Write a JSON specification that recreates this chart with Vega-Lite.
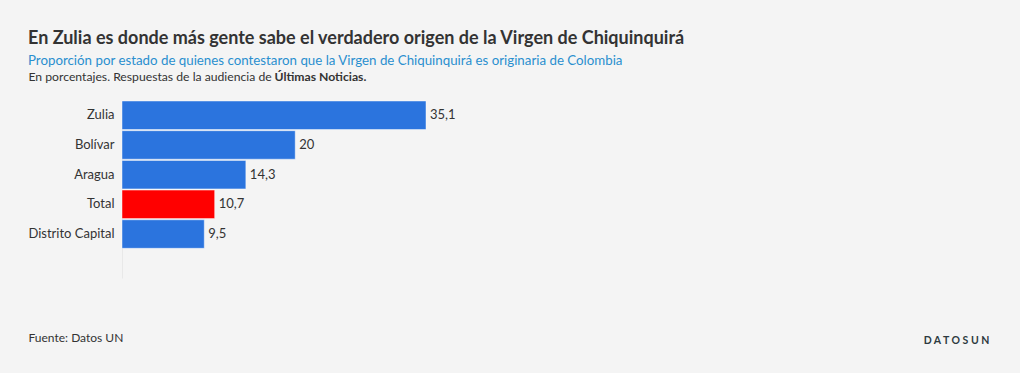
{
  "$schema": "https://vega.github.io/schema/vega-lite/v6.json",
  "width": 304,
  "height": 177,
  "autosize": "none",
  "padding": {"left": 122, "top": 101, "right": 594, "bottom": 95},
  "background": "#f4f4f4",
  "config": {
    "view": {"stroke": null},
    "font": "Lato",
    "locale": {"number": {"decimal": ",", "thousands": ".", "grouping": [3], "currency": ["", ""]}}
  },
  "title": {
    "text": "En Zulia es donde más gente sabe el verdadero origen de la Virgen de Chiquinquirá",
    "subtitle": "Proporción por estado de quienes contestaron que la Virgen de Chiquinquirá es originaria de Colombia",
    "anchor": "start",
    "frame": "group",
    "dx": -94,
    "dy": 1,
    "fontSize": 18,
    "fontWeight": "bold",
    "color": "#333333",
    "subtitleFontSize": 13.3,
    "subtitleColor": "#2a8fcf",
    "subtitlePadding": 6,
    "offset": 4
  },
  "data": {
    "values": [
      {"estado": "Zulia", "valor": 35.1, "tipo": "estado"},
      {"estado": "Bolívar", "valor": 20, "tipo": "estado"},
      {"estado": "Aragua", "valor": 14.3, "tipo": "estado"},
      {"estado": "Total", "valor": 10.7, "tipo": "total"},
      {"estado": "Distrito Capital", "valor": 9.5, "tipo": "estado"}
    ]
  },
  "layer": [
    {
      "mark": {"type": "bar", "stroke": "#ffffff", "strokeOpacity": 0.45, "strokeWidth": 1},
      "encoding": {
        "y": {
          "field": "estado",
          "type": "nominal",
          "sort": null,
          "scale": {"domain": ["Zulia", "Bolívar", "Aragua", "Total", "Distrito Capital", " "], "paddingInner": 0.04, "paddingOuter": 0},
          "axis": {
            "title": "Últimas Noticias.",
            "titleAngle": 0,
            "titleX": 152,
            "titleY": -25,
            "titleAlign": "left",
            "titleBaseline": "middle",
            "titleFontWeight": "bold",
            "titleFontSize": 12.2,
            "titleColor": "#333333",
            "labelFontSize": 13,
            "labelColor": "#333333",
            "labelPadding": 8,
            "ticks": false,
            "domainColor": "#e8e8e8",
            "grid": false
          }
        },
        "x": {
          "field": "valor",
          "type": "quantitative",
          "scale": {"domain": [0, 35.1], "nice": false},
          "axis": {
            "orient": "top",
            "title": "En porcentajes. Respuestas de la audiencia de",
            "titleX": -94,
            "titleY": -25,
            "titleAlign": "left",
            "titleBaseline": "middle",
            "titleFontWeight": "normal",
            "titleFontSize": 12.2,
            "titleColor": "#333333",
            "labels": false,
            "ticks": false,
            "domain": false,
            "grid": false
          }
        },
        "color": {
          "field": "tipo",
          "type": "nominal",
          "scale": {"domain": ["estado", "total"], "range": ["#2b74de", "#ff0000"]},
          "legend": null
        }
      }
    },
    {
      "mark": {"type": "text", "align": "left", "baseline": "middle", "dx": 4, "fontSize": 13, "color": "#333333"},
      "encoding": {
        "y": {
          "field": "estado",
          "type": "nominal",
          "sort": null,
          "axis": {
            "orient": "right",
            "title": "D A T O S U N",
            "titleAngle": 0,
            "titleX": 530,
            "titleY": 239,
            "titleAlign": "center",
            "titleBaseline": "middle",
            "titleFontWeight": "bold",
            "titleFontSize": 10.5,
            "titleColor": "#2d3a40",
            "labels": false,
            "ticks": false,
            "domain": false,
            "grid": false
          }
        },
        "x": {
          "field": "valor",
          "type": "quantitative",
          "axis": {
            "orient": "bottom",
            "title": "Fuente: Datos UN",
            "titleX": -94,
            "titleY": 59,
            "titleAlign": "left",
            "titleBaseline": "middle",
            "titleFontWeight": "normal",
            "titleFontSize": 12,
            "titleColor": "#333333",
            "labels": false,
            "ticks": false,
            "domain": false,
            "grid": false
          }
        },
        "text": {"field": "valor", "type": "quantitative", "format": ".1~f"}
      }
    }
  ],
  "resolve": {"axis": {"x": "independent", "y": "independent"}}
}
